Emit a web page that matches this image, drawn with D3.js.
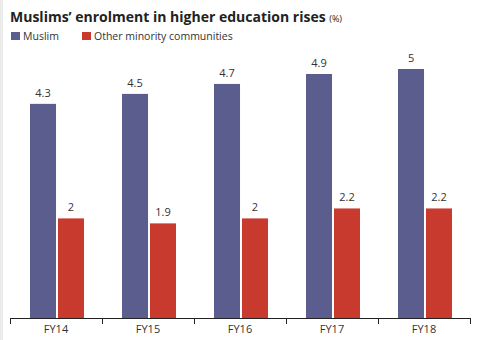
<!DOCTYPE html>
<html>
<head>
<meta charset="utf-8">
<script src="https://cdn.jsdelivr.net/npm/d3@7"></script>
<style>
  body { margin: 0; background: #fff; }
  svg { display: block; font-family: "Open Sans", "DejaVu Sans", sans-serif; }
</style>
</head>
<body>
<div id="chart"></div>
<script>
// data
var years = ["FY14", "FY15", "FY16", "FY17", "FY18"];
var muslim = [4.3, 4.5, 4.7, 4.9, 5];
var otherMinority = [2, 1.9, 2, 2.2, 2.2];
var seriesNames = ["Muslim", "Other minority communities"];
var seriesColors = ["#5b5d8e", "#c8392e"];

var width = 490, height = 340;

var svg = d3.select("#chart")
            .append("svg")
            .attr("width", width)
            .attr("height", height);

// thin grey strip on the left edge
svg.append("rect")
   .attr("x", 0).attr("y", 0)
   .attr("width", 3).attr("height", height)
   .attr("fill", "#ebebeb");

// title
var title = svg.append("text")
   .attr("x", 10)
   .attr("y", 22)
   .attr("fill", "#222")
   .style("font-weight", "bold")
   .style("font-size", "14px");
title.append("tspan").text("Muslims\u2019 enrolment in higher education rises ");
title.append("tspan").style("font-size", "9px").style("font-weight", "normal").text("(%)");

// legend
var legendX = [11, 82];
seriesNames.forEach(function(name, i) {
    svg.append("rect")
       .attr("x", legendX[i]).attr("y", 32)
       .attr("width", 9).attr("height", 8)
       .attr("fill", seriesColors[i]);
    svg.append("text")
       .attr("x", legendX[i] + 12).attr("y", 40)
       .attr("fill", "#333")
       .style("font-size", "10.5px")
       .text(name);
});

// scales
var x0 = d3.scaleBand().domain(years).range([10, 470]).padding(0);
var x1 = d3.scaleBand().domain(seriesNames).range([-26, 28]).paddingInner(0.07);
var y = d3.scaleLinear().domain([0, 5]).range([318, 69]);

var rows = years.map(function(yr, i) {
    return { year: yr, values: [muslim[i], otherMinority[i]] };
});

var groups = svg.selectAll("g.group")
   .data(rows)
   .enter()
   .append("g")
   .attr("class", "group")
   .attr("transform", function(d) { return "translate(" + (x0(d.year) + x0.bandwidth() / 2) + ",0)"; });

groups.selectAll("rect")
   .data(function(d) { return d.values.map(function(v, i) { return { name: seriesNames[i], value: v, color: seriesColors[i] }; }); })
   .enter()
   .append("rect")
   .attr("x", function(d) { return x1(d.name); })
   .attr("y", function(d) { return y(d.value); })
   .attr("width", x1.bandwidth())
   .attr("height", function(d) { return y(0) - y(d.value); })
   .attr("fill", function(d) { return d.color; });

groups.selectAll("text.val")
   .data(function(d) { return d.values.map(function(v, i) { return { name: seriesNames[i], value: v }; }); })
   .enter()
   .append("text")
   .attr("class", "val")
   .attr("x", function(d) { return x1(d.name) + x1.bandwidth() / 2; })
   .attr("y", function(d) { return y(d.value) - 7; })
   .attr("text-anchor", "middle")
   .attr("fill", "#333")
   .style("font-size", "11px")
   .text(function(d) { return d.value; });

// x axis: ticks sit between categories
var axis = svg.append("g");
axis.append("line")
   .attr("x1", 10).attr("x2", 470)
   .attr("y1", 318.5).attr("y2", 318.5)
   .attr("stroke", "#222");
var tickPos = years.map(function(yr) { return x0(yr); }).concat([x0.range()[1]]);
axis.selectAll("line.tick")
   .data(tickPos)
   .enter()
   .append("line")
   .attr("class", "tick")
   .attr("x1", function(d) { return Math.round(d) + 0.5; })
   .attr("x2", function(d) { return Math.round(d) + 0.5; })
   .attr("y1", 318).attr("y2", 324)
   .attr("stroke", "#222");
axis.selectAll("text")
   .data(years)
   .enter()
   .append("text")
   .attr("x", function(d) { return x0(d) + x0.bandwidth() / 2; })
   .attr("y", 333)
   .attr("text-anchor", "middle")
   .attr("fill", "#333")
   .style("font-size", "11px")
   .text(function(d) { return d; });
</script>
</body>
</html>
